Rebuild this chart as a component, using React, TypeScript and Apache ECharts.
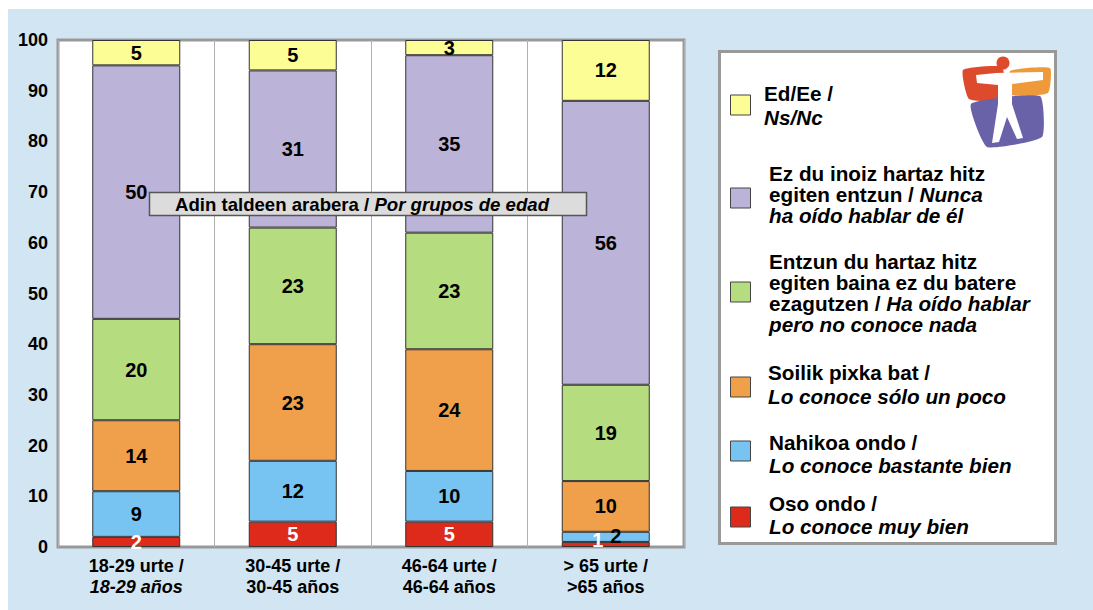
import React, { useEffect, useRef } from "react";
import * as echarts from "echarts";

// ---- data ----
const categories = [
  "18-29 urte /\n{i|18-29 años}",
  "30-45 urte /\n30-45 años",
  "46-64 urte /\n46-64 años",
  "> 65 urte /\n>65 años",
];
const yTicks = [0, 100, 10]; // min, max, interval

const osoOndo = [2, 5, 5, 1];
const nahikoaOndo = [9, 12, 10, 2];
const soilik = [14, 23, 24, 10];
const entzun = [20, 23, 23, 19];
const ezInoiz = [50, 31, 35, 56];
const nsnc = [5, 6, 3, 12]; // drawn heights
const nsncLabels = [5, 5, 3, 12]; // printed labels

const seriesNames = [
  "Oso ondo / Lo conoce muy bien",
  "Nahikoa ondo / Lo conoce bastante bien",
  "Soilik pixka bat / Lo conoce sólo un poco",
  "Entzun du hartaz hitz egiten baina ez du batere ezagutzen / Ha oído hablar pero no conoce nada",
  "Ez du inoiz hartaz hitz egiten entzun / Nunca ha oído hablar de él",
  "Ed/Ee / Ns/Nc",
];
const seriesValues = [osoOndo, nahikoaOndo, soilik, entzun, ezInoiz, nsnc];
const seriesLabels = [osoOndo, nahikoaOndo, soilik, entzun, ezInoiz, nsncLabels];
const colors = ["#dd2a1b", "#77c3f2", "#f0a04b", "#b5dc7e", "#bcb3d8", "#fdfd96"];
const labelColors = ["#ffffff", "#000", "#000", "#000", "#000", "#000"];

const legendTexts = [
  "Oso ondo /\n{i|Lo conoce muy bien}",
  "Nahikoa ondo /\n{i|Lo conoce bastante bien}",
  "Soilik pixka bat /\n{i|Lo conoce sólo un poco}",
  "Entzun du hartaz hitz\negiten baina ez du batere\nezagutzen / {i|Ha oído hablar}\n{i|pero no conoce nada}",
  "Ez du inoiz hartaz hitz\negiten entzun / {i|Nunca}\n{i|ha oído hablar de él}",
  "Ed/Ee /\n{i|Ns/Nc}",
];
const titleText = "Adin taldeen arabera / {i|Por grupos de edad}";

// label offsets for tiny segments [seriesIndex-catIndex]
const labelOffsets: Record<string, number[]> = { "0-3": [-8, -4], "1-3": [10, -1] };

// legend layout (style)
const legendSquareY = [517, 451, 387, 292, 198, 105];
const legendTextY = [515, 454, 384, 293, 194, 105];
const legendTextX = [769, 769, 768, 769, 769, 764];
const legendLineH = [23, 23, 24, 21, 21, 24];

const FONT = "'Liberation Sans', Arial, sans-serif";

export default function App() {
  const ref = useRef<HTMLDivElement>(null);
  useEffect(() => {
    if (!ref.current) return;
    const chart = echarts.init(ref.current, undefined, { renderer: "svg" });

    const series = seriesValues.map((vals, si) => ({
      name: seriesNames[si],
      type: "bar",
      stack: "total",
      barWidth: 88,
      itemStyle: { color: colors[si], borderColor: "#333", borderWidth: 1 },
      label: {
        show: true,
        position: "inside",
        color: labelColors[si],
        fontFamily: FONT,
        fontWeight: "bold",
        fontSize: 20,
        formatter: (p: any) => String(seriesLabels[si][p.dataIndex]),
      },
      data: vals.map((v, ci) => {
        const off = labelOffsets[`${si}-${ci}`];
        return off ? { value: v, label: { offset: off } } : { value: v };
      }),
    }));

    const legendGraphics: any[] = [];
    for (let i = 0; i < colors.length; i++) {
      legendGraphics.push({
        type: "rect",
        z: 20,
        shape: { x: 730.5, y: legendSquareY[i] - 10, width: 20, height: 20 },
        style: { fill: colors[i], stroke: "#444", lineWidth: 1 },
      });
      legendGraphics.push({
        type: "text",
        z: 20,
        x: legendTextX[i],
        y: legendTextY[i],
        style: {
          text: legendTexts[i],
          fontFamily: FONT,
          fontWeight: "bold",
          fontSize: 20.7,
          lineHeight: legendLineH[i],
          fill: "#000",
          verticalAlign: "middle",
          align: "left",
          rich: {
            i: {
              fontFamily: FONT,
              fontWeight: "bold",
              fontStyle: "italic",
              fontSize: 20.7,
              lineHeight: legendLineH[i],
              fill: "#000",
            },
          },
        },
      });
    }

    const logo: any[] = [
      {
        type: "polygon",
        z: 21,
        shape: { points: [[963, 70], [1002, 67], [1004, 100], [969, 99]], smooth: 0.15 },
        style: { fill: "#de4a2c" },
      },
      {
        type: "polygon",
        z: 21,
        shape: { points: [[1010, 71], [1050, 68], [1048, 93], [1012, 95]], smooth: 0.15 },
        style: { fill: "#ef9a3a" },
      },
      {
        type: "polygon",
        z: 21,
        shape: { points: [[971, 104], [1040, 96], [1042, 137], [987, 147]], smooth: 0.15 },
        style: { fill: "#6a62a8" },
      },
      {
        type: "polygon",
        z: 22,
        shape: {
          points: [
            [976, 75], [996, 73], [1043, 72], [1043, 80], [1012, 84], [1012, 104],
            [1023, 138], [1017, 139], [1007, 117], [999, 142], [992, 143],
            [998, 104], [998, 85], [977, 83],
          ],
        },
        style: { fill: "#ffffff" },
      },
      { type: "circle", z: 22, shape: { cx: 1003, cy: 63, r: 6.5 }, style: { fill: "#de4a2c" } },
    ];

    const option: any = {
      animation: false,
      textStyle: { fontFamily: FONT },
      grid: {
        left: 58,
        right: 1093 - 684,
        top: 40,
        bottom: 610 - 547,
        show: true,
        backgroundColor: "#ffffff",
        borderColor: "#999999",
        borderWidth: 3,
        containLabel: false,
      },
      xAxis: {
        type: "category",
        data: categories,
        axisLine: { show: false },
        axisTick: { show: false },
        splitLine: { show: true, lineStyle: { color: "#b0b0b0", width: 1 } },
        axisLabel: {
          margin: 8,
          color: "#000",
          fontFamily: FONT,
          fontWeight: "bold",
          fontSize: 18,
          lineHeight: 21,
          rich: {
            i: { fontFamily: FONT, fontWeight: "bold", fontStyle: "italic", fontSize: 18, lineHeight: 21, color: "#000" },
          },
        },
      },
      yAxis: {
        type: "value",
        min: yTicks[0],
        max: yTicks[1],
        interval: yTicks[2],
        axisLine: { show: false },
        axisTick: { show: false },
        splitLine: { show: false },
        axisLabel: { margin: 10, color: "#000", fontFamily: FONT, fontWeight: "bold", fontSize: 18 },
      },
      series,
      graphic: [
        {
          type: "rect",
          z: -100,
          silent: true,
          shape: { x: 8, y: 9, width: 1085, height: 601 },
          style: { fill: "#d2e5f3" },
        },
        {
          type: "rect",
          z: 10,
          shape: { x: 719.5, y: 51.5, width: 336, height: 492 },
          style: { fill: "#ffffff", stroke: "#999999", lineWidth: 3 },
        },
        ...legendGraphics,
        ...logo,
        {
          type: "rect",
          z: 30,
          shape: { x: 149.5, y: 192.5, width: 437, height: 23 },
          style: { fill: "#dcdcdc", stroke: "#555555", lineWidth: 1.5 },
        },
        {
          type: "text",
          z: 31,
          x: 175,
          y: 204,
          style: {
            text: titleText,
            fontFamily: FONT,
            fontWeight: "bold",
            fontSize: 18.6,
            fill: "#000",
            verticalAlign: "middle",
            align: "left",
            rich: { i: { fontFamily: FONT, fontWeight: "bold", fontStyle: "italic", fontSize: 18.6, fill: "#000" } },
          },
        },
      ],
    };
    chart.setOption(option);
    return () => chart.dispose();
  }, []);

  return (
    <div
      ref={ref}
      style={{ position: "fixed", left: 0, top: 0, width: 1093, height: 610, background: "#ffffff" }}
    />
  );
}
